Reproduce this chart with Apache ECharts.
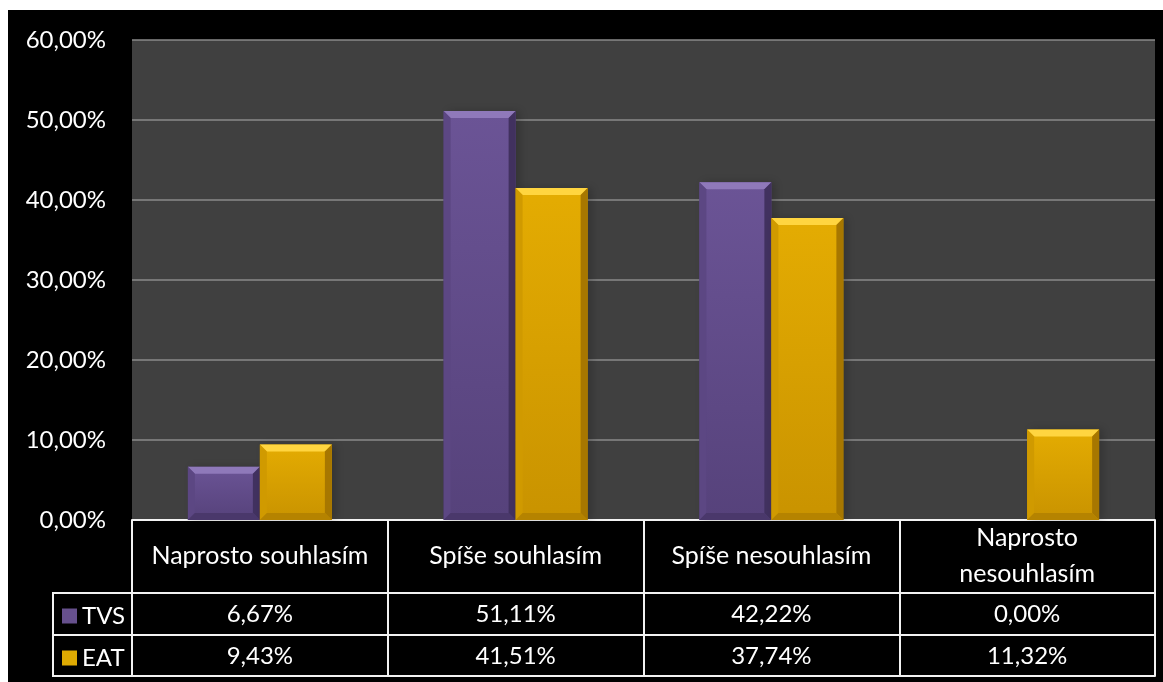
<!DOCTYPE html>
<html>
<head>
<meta charset="utf-8">
<script src="https://cdn.jsdelivr.net/npm/echarts@6/dist/echarts.min.js"></script>
<style>
  html, body { margin: 0; padding: 0; background: #fff; }
  #main { position: absolute; left: 8px; top: 10px; width: 1155px; height: 672px; }
</style>
</head>
<body>
<div id="main"></div>
<script>
// data
var categories = ['Naprosto souhlasím', 'Spíše souhlasím', 'Spíše nesouhlasím', 'Naprosto nesouhlasím'];
var tvs = [6.67, 51.11, 42.22, 0.00];
var eat = [9.43, 41.51, 37.74, 11.32];
var seriesNames = ['TVS', 'EAT'];

var fmt = function (v) {
    return v.toFixed(2).replace('.', ',') + '%';
};

// barvy pro "bevel" sloupce
var palette = [
    { body: ['#6b5496', '#56427b'], top: '#8f79ba', left: '#5c4783', right: '#41315f', bottom: '#4a386b' },
    { body: ['#e4ac02', '#c99300'], top: '#ffd540', left: '#d09a00', right: '#a77700', bottom: '#b58300' }
];

var FONT = 'Lato';
var BAR_W = 72;

function bevelBar(seriesIdx) {
    return function (params, api) {
        var val = api.value(1);
        if (!val) return;
        var top = api.coord([api.value(0), val]);
        var base = api.coord([api.value(0), 0]);
        var x = top[0] - BAR_W + seriesIdx * BAR_W;
        var y = top[1];
        var h = base[1] - top[1];
        var w = BAR_W;
        var d = Math.min(7, h / 2);
        var c = palette[seriesIdx];
        return {
            type: 'group',
            children: [
                {
                    type: 'rect',
                    shape: { x: x, y: y, width: w, height: h },
                    style: { fill: 'rgba(0,0,0,0.35)', shadowBlur: 8, shadowOffsetX: 4, shadowColor: 'rgba(0,0,0,0.55)' }
                },
                {
                    type: 'rect',
                    shape: { x: x, y: y, width: w, height: h },
                    style: {
                        fill: new echarts.graphic.LinearGradient(0, 0, 0, 1, [
                            { offset: 0, color: c.body[0] },
                            { offset: 1, color: c.body[1] }
                        ])
                    }
                },
                {
                    type: 'polygon',
                    shape: { points: [[x, y], [x + w, y], [x + w - d, y + d], [x + d, y + d]] },
                    style: { fill: c.top }
                },
                {
                    type: 'polygon',
                    shape: { points: [[x, y], [x + d, y + d], [x + d, y + h - d], [x, y + h]] },
                    style: { fill: c.left }
                },
                {
                    type: 'polygon',
                    shape: { points: [[x + w, y], [x + w, y + h], [x + w - d, y + h - d], [x + w - d, y + d]] },
                    style: { fill: c.right }
                },
                {
                    type: 'polygon',
                    shape: { points: [[x, y + h], [x + d, y + h - d], [x + w - d, y + h - d], [x + w, y + h]] },
                    style: { fill: c.bottom }
                }
            ]
        };
    };
}

var myChart = echarts.init(document.getElementById('main'));

var lineW = { color: '#f2f2f2', width: 2 };

var rowAxis = function (offset, labels) {
    return {
        type: 'category',
        position: 'bottom',
        data: categories,
        offset: offset,
        axisLine: { show: true, lineStyle: lineW },
        axisTick: { show: false },
        axisLabel: {
            show: !!labels,
            interval: 0,
            margin: 21,
            verticalAlign: 'middle',
            color: '#fff',
            fontFamily: FONT,
            fontSize: 24,
            formatter: function (v, i) { return labels ? fmt(labels[i]) : ''; }
        }
    };
};

var option = {
    backgroundColor: '#000',
    animation: false,
    grid: { left: 124, top: 30, right: 8, bottom: 162, backgroundColor: '#404040', show: true, borderWidth: 0 },
    legend: {
        orient: 'vertical',
        left: 54,
        top: 594,
        height: 80,
        padding: 0,
        itemWidth: 15,
        itemHeight: 15,
        itemGap: 18,
        icon: 'rect',
        textStyle: { color: '#fff', fontFamily: FONT, fontSize: 24, padding: [0, 0, 0, 0] },
        data: seriesNames
    },
    xAxis: [
        {
            type: 'category',
            position: 'bottom',
            data: categories,
            axisLine: { show: true, lineStyle: lineW },
            axisTick: { show: true, length: 156, lineStyle: lineW },
            axisLabel: {
                interval: 0,
                margin: 36,
                verticalAlign: 'middle',
                color: '#fff',
                fontFamily: FONT,
                fontSize: 25,
                lineHeight: 36,
                // dlouhý popisek se v tabulce zalomí
                formatter: function (v) { return v.length > 18 ? v.replace(' ', '\n') : v; }
            }
        },
        rowAxis(73, tvs),
        rowAxis(115, eat),
        rowAxis(156, null)
    ],
    yAxis: {
        type: 'value',
        min: 0,
        max: 60,
        interval: 10,
        axisLine: { show: false },
        axisTick: { show: false },
        splitLine: { lineStyle: { color: '#8a8a8a', width: 1.5 } },
        axisLabel: {
            margin: 26,
            color: '#fff',
            fontFamily: FONT,
            fontSize: 24,
            formatter: function (v) { return fmt(v); }
        }
    },
    graphic: [
        // levý sloupec legendy v tabulce
        { type: 'line', shape: { x1: 45, y1: 583, x2: 45, y2: 667 }, style: { stroke: '#f2f2f2', lineWidth: 2 } },
        { type: 'line', shape: { x1: 44, y1: 583, x2: 124, y2: 583 }, style: { stroke: '#f2f2f2', lineWidth: 2 } },
        { type: 'line', shape: { x1: 44, y1: 625, x2: 124, y2: 625 }, style: { stroke: '#f2f2f2', lineWidth: 2 } },
        { type: 'line', shape: { x1: 44, y1: 666, x2: 124, y2: 666 }, style: { stroke: '#f2f2f2', lineWidth: 2 } }
    ],
    series: [
        {
            name: 'TVS',
            type: 'custom',
            itemStyle: { color: '#66508d' },
            renderItem: bevelBar(0),
            encode: { x: 0, y: 1 },
            data: tvs.map(function (v, i) { return [i, v]; })
        },
        {
            name: 'EAT',
            type: 'custom',
            itemStyle: { color: '#deaa02' },
            renderItem: bevelBar(1),
            encode: { x: 0, y: 1 },
            data: eat.map(function (v, i) { return [i, v]; })
        }
    ]
};

myChart.setOption(option);
</script>
</body>
</html>
